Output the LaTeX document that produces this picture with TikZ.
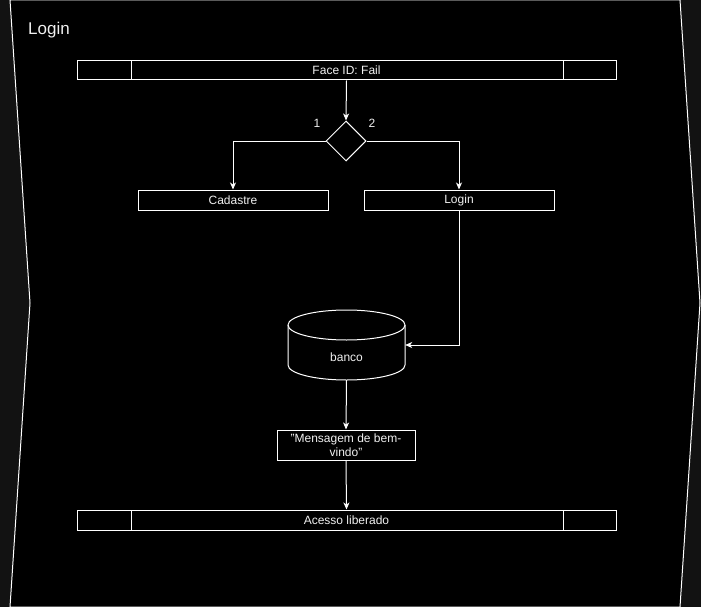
\documentclass[tikz,border=0pt]{standalone}
\usepackage{fontspec}
\setmainfont{Liberation Sans}
\usetikzlibrary{arrows.meta,shapes.geometric}
\definecolor{outbg}{HTML}{121212}
\definecolor{txt}{HTML}{F0F0F0}
\tikzset{
  ln/.style={draw=white, line width=1pt},
  arr/.style={ln, -{Stealth[length=7pt,width=6pt,inset=2pt]}},
  boxnode/.style={ln, fill=black, text=txt, font=\fontsize{12}{14}\selectfont, inner sep=0pt, align=center},
  lbl/.style={text=txt, font=\fontsize{12}{14}\selectfont, inner sep=0pt},
}
\begin{document}
\begin{tikzpicture}[x=1pt,y=-1pt]
\useasboundingbox (0,0) rectangle (701,607);
\fill[outbg] (0,0) rectangle (701,607);
\draw[ln, fill=black] (10,0) -- (680,0) -- (700,303) -- (680,607) -- (10,607) -- (30,303) -- cycle;
\node[text=txt, font=\fontsize{17}{20}\selectfont, anchor=west, inner sep=0pt] (title) at (28,30) {Login};

% top process
\node[boxnode, minimum width=539pt, minimum height=19pt] (face) at (346.5,70.5) {Face ID: Fail};
\draw[ln] (131,61) -- (131,80) (563,61) -- (563,80);

% diamond
\node[ln, fill=black, diamond, minimum width=40pt, minimum height=40pt, inner sep=0pt] (dec) at (346,141) {};
\node[lbl] (one) at (317,123) {1};
\node[lbl] (two) at (372,123) {2};

\node[boxnode, minimum width=190pt, minimum height=20pt] (cad) at (233,200) {Cadastre};
\node[boxnode, minimum width=190pt, minimum height=20pt] (log) at (459,200) {Login};

% cylinder
\node[minimum width=117pt, minimum height=70pt, inner sep=0pt] (banco) at (346.5,345) {};
\draw[ln] (288,325) -- (288,365) .. controls (288,373.3) and (314.2,380) .. (346.5,380) .. controls (378.8,380) and (405,373.3) .. (405,365) -- (405,325);
\draw[ln] (346.5,325) ellipse [x radius=58.5, y radius=15];
\node[lbl] (bancotxt) at (346.5,357) {banco};

\node[boxnode, minimum width=138pt, minimum height=30pt] (msg) at (346,445) {"Mensagem de bem-\\vindo"};

\node[boxnode, minimum width=539pt, minimum height=20pt] (acc) at (346.5,520) {Acesso liberado};
\draw[ln] (131,510) -- (131,530) (563,510) -- (563,530);

% connectors
\draw[arr] (face.south) -- (dec.north);
\draw[arr] (dec.west) -| (cad.north);
\draw[arr] (dec.east) -| (log.north);
\draw[arr] (log.south) |- (banco.east);
\draw[arr] (banco.south) -- (msg.north);
\draw[arr] (msg.south) -- (acc.north);
\end{tikzpicture}
\end{document}
